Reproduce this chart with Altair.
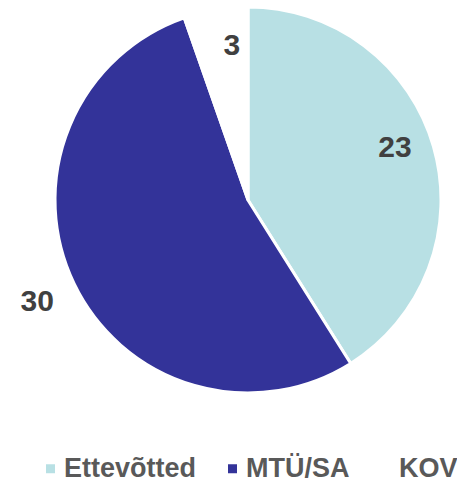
import altair as alt
import pandas as pd

categories = ["Ettevõtted", "MTÜ/SA", "KOV"]
values = [23, 30, 3]
colors = ["#B8E0E4", "#333399", "#FFFFFF"]

df = pd.DataFrame({
    "cat": categories,
    "val": values,
    "ord": list(range(len(categories))),
})
total = sum(values)

FONT = "Liberation Sans"
CX, CY, R = 240, 192, 193

theta_scale = alt.Scale(domain=[0, total])

base = alt.Chart(df).transform_window(
    end="sum(val)", sort=[alt.SortField("ord")], frame=[None, 0]
).transform_calculate(
    start="datum.end - datum.val",
    mid="datum.end - datum.val / 2",
)

arcs = base.mark_arc(outerRadius=R, stroke="white", strokeWidth=3).encode(
    theta=alt.Theta("start:Q", scale=theta_scale),
    theta2="end:Q",
    x=alt.value(CX),
    y=alt.value(CY),
    color=alt.Color(
        "cat:N",
        scale=alt.Scale(domain=categories, range=colors),
        sort=categories,
        legend=alt.Legend(
            title=None,
            orient="none",
            direction="horizontal",
            legendX=29,
            legendY=447,
            symbolType="square",
            symbolSize=81,
            symbolStrokeWidth=0,
            labelFont=FONT,
            labelFontSize=27,
            labelFontWeight="bold",
            labelColor="#595959",
            labelOffset=0,
            columnPadding=22,
            padding=0,
            labelLimit=300,
        ),
    ),
)


def label(cat, radius, dx=0, dy=0):
    return base.transform_filter(alt.datum.cat == cat).mark_text(
        radius=radius, dx=dx, dy=dy, font=FONT, fontSize=30,
        fontWeight="bold", color="#404040"
    ).encode(
        theta=alt.Theta("mid:Q", scale=theta_scale),
        x=alt.value(CX), y=alt.value(CY), text="val:Q",
    )


chart = alt.layer(
    arcs,
    label("Ettevõtted", 156, dx=-3, dy=-9),
    label("MTÜ/SA", 234),
    label("KOV", 156, dx=10),
).properties(
    width=449, height=476, padding=0,
    autosize=alt.AutoSizeParams(type="none"),
).configure_view(stroke=None)

chart.save("out.html", embed_options={"renderer": "svg", "actions": False})
